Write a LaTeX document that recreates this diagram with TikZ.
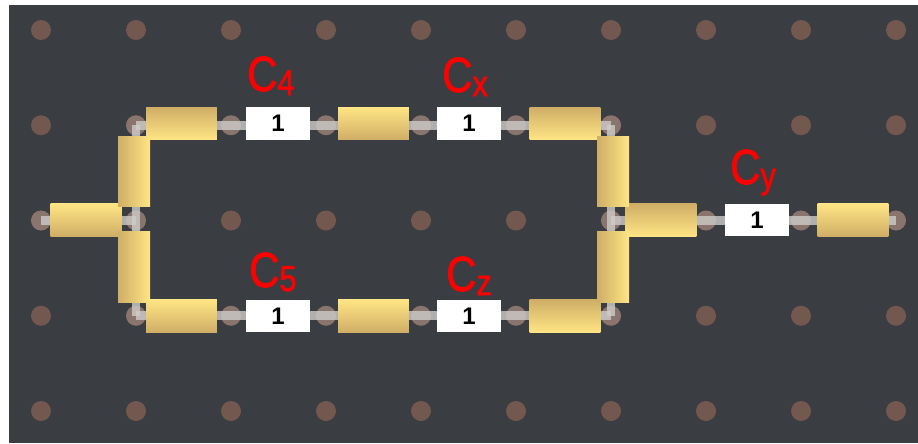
\documentclass[tikz,border=0pt]{standalone}
\usepackage{fontspec}
\setmainfont{Liberation Sans}
\newfontfamily\partfont[FakeBold=1.6]{Liberation Sans}
\definecolor{boardgray}{HTML}{3A3D42}
\definecolor{holebrown}{HTML}{735850}
\definecolor{leadgray}{HTML}{CFCCC8}
\definecolor{wiredark}{HTML}{CFAE66}
\definecolor{wirelight}{HTML}{FFE585}
\tikzset{
  hole/.style={circle,fill=holebrown,inner sep=0pt,minimum size=15pt},
  lead/.style={leadgray,line width=6.5pt,opacity=0.8},
  joint/.style={leadgray,opacity=0.25},
  wirebox/.style={inner sep=0pt,minimum width=53pt,minimum height=24.5pt},
  wiredown/.style={wirebox,top color=wiredark,bottom color=wirelight},
  wireup/.style={wirebox,top color=wirelight,bottom color=wiredark},
  wirevert/.style={inner sep=0pt,minimum width=24pt,minimum height=53pt,left color=wiredark,right color=wirelight},
  valuebox/.style={fill=white,inner sep=0pt,minimum width=48pt,minimum height=24.5pt,font=\bfseries\fontsize{18}{18}\selectfont},
  partlabel/.style={text=red,inner sep=0pt,anchor=base west,xscale=0.85,font=\partfont\fontsize{37}{37}\selectfont}
}
\newcommand{\partsub}[1]{\raisebox{-3pt}{\fontsize{27}{27}\selectfont #1}}
\begin{document}
\begin{tikzpicture}[x=0.75pt,y=-0.75pt]
  \useasboundingbox (0,0) rectangle (918,443);
  \fill[boardgray] (9,5) rectangle (918,443);

  % holes
  \foreach \i in {0,...,9}
  \foreach \j in {0,...,4}
  \node[hole] (h\i\j) at ({41 + 95*\i}, {30 + 95.25*\j}) {};

  % leads
  \foreach \a/\b in {h11/h21, h21/h31, h31/h41, h41/h51, h51/h61,
    h13/h23, h23/h33, h33/h43, h43/h53, h53/h63,
    h11/h12, h12/h13, h61/h62, h62/h63,
    h02/h12, h62/h72, h72/h82, h82/h92}
  \draw[lead] (\a.center) -- (\b.center);
  \foreach \h in {h02, h12, h11, h21, h31, h41, h51, h61, h13, h23, h33, h43, h53, h63, h62, h72, h82, h92}
  \fill[joint] (\h.center) circle [radius=7.5pt];

  % values
  \foreach \n/\x/\y in {v4/278/123.5, vx/469/123.5, v5/278/316, vz/469/316, vy/757/220}
  \node[valuebox] (\n) at (\x, \y) {1};

  % wires
  \node[wiredown] (w1) at (181.5, 123.5) {};
  \node[wireup] (w2) at (373.5, 123.5) {};
  \node[wiredown] (w3) at (565, 123.5) {};
  \node[wireup] (w4) at (181.5, 316) {};
  \node[wireup] (w5) at (373.5, 316) {};
  \node[wiredown] (w6) at (565, 316) {};
  \node[wireup] (w7) at (86, 220) {};
  \node[wiredown] (w8) at (661, 220) {};
  \node[wireup] (w9) at (853, 220) {};
  \node[wirevert] (w10) at (134, 171.5) {};
  \node[wirevert] (w11) at (134, 267) {};
  \node[wirevert] (w12) at (613, 171.5) {};
  \node[wirevert] (w13) at (613, 267) {};

  % labels
  \node[partlabel] (c4) at (247, 91) {C\partsub{4}};
  \node[partlabel] (cx) at (442, 92) {C\partsub{x}};
  \node[partlabel] (c5) at (249, 287) {C\partsub{5}};
  \node[partlabel] (cz) at (446, 291) {C\partsub{z}};
  \node[partlabel] (cy) at (730, 184) {C\partsub{y}};
\end{tikzpicture}
\end{document}
